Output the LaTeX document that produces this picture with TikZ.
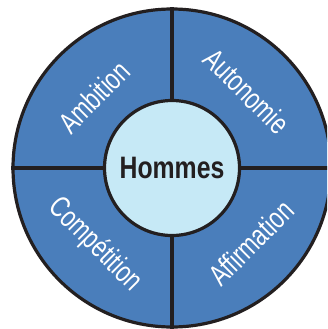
\documentclass[tikz,border=0pt]{standalone}
\usepackage{fontspec}
\setmainfont[FakeStretch=0.8]{Liberation Sans}
\newfontfamily\labfont[FakeStretch=0.74]{Liberation Sans}
\definecolor{segblue}{HTML}{4A7EBB}
\definecolor{hubblue}{HTML}{C6E9F6}
\definecolor{inkline}{HTML}{231F20}
\tikzset{
  ring/.style={circle, fill=segblue, draw=inkline, line width=3.2pt, minimum size=318pt, inner sep=0pt},
  hub/.style={circle, fill=hubblue, draw=inkline, line width=3.2pt, minimum size=135pt, inner sep=0pt, font=\fontsize{31}{31}\selectfont\bfseries, text=inkline},
  divider/.style={draw=inkline, line width=4.5pt},
  seglabel/.style={font=\labfont\fontsize{30}{30}\selectfont, text=white, inner sep=0pt}
}
\begin{document}
\begin{tikzpicture}[x=1pt,y=-1pt]
\useasboundingbox (0,0) rectangle (327,329);
\clip (0,0) rectangle (327,329);
\node[ring] (outer) at (172,168) {};
\draw[divider] (outer.north) -- (outer.south);
\draw[divider] (outer.west) -- (outer.east);
\node[hub] (hub) at (172,168) {Hommes};
\node[seglabel, rotate=45] (ambition) at (94,97) {Ambition};
\node[seglabel, rotate=-45] (autonomie) at (247,91) {Autonomie};
\node[seglabel, rotate=-45] (competition) at (95,245) {Compétition};
\node[seglabel, rotate=45] (affirmation) at (251,243) {Affirmation};
\end{tikzpicture}
\end{document}
